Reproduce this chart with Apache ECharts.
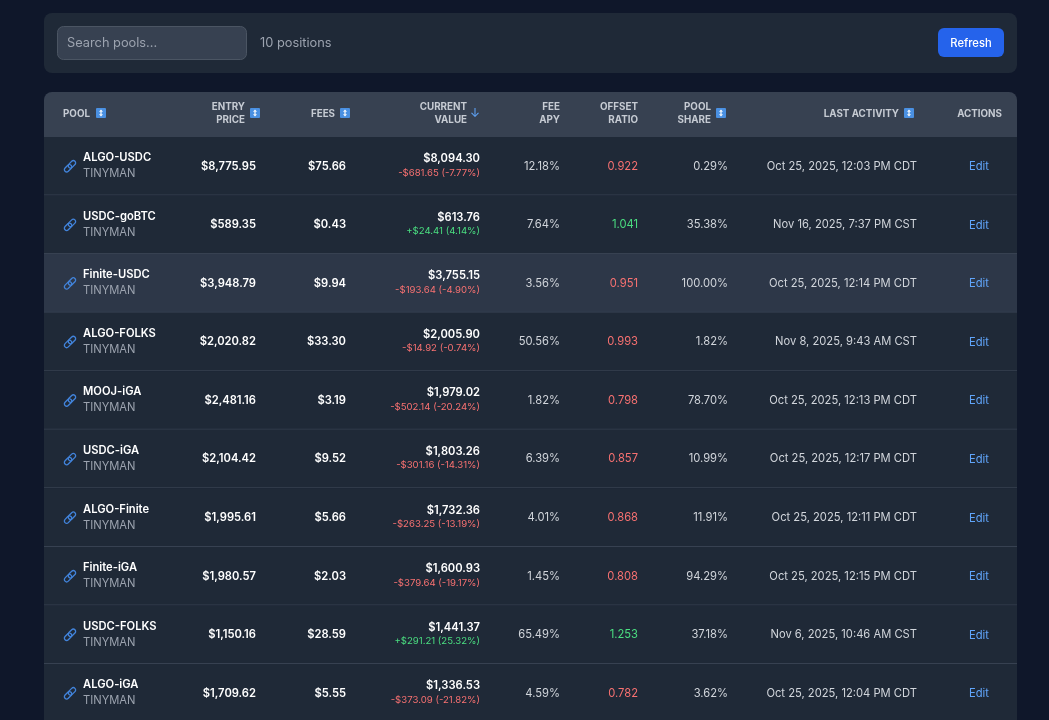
<!DOCTYPE html>
<html>
<head>
<meta charset="utf-8">
<title>Positions</title>
<script src="https://cdn.jsdelivr.net/npm/echarts@6/dist/echarts.min.js"></script>
<style>
html, body { margin: 0; padding: 0; background: #0f172a; overflow: hidden; }
#main { width: 1049px; height: 720px; }
</style>
</head>
<body>
<div id="main"></div>
<script>
var pools = ['ALGO-USDC', 'USDC-goBTC', 'Finite-USDC', 'ALGO-FOLKS', 'MOOJ-iGA', 'USDC-iGA', 'ALGO-Finite', 'Finite-iGA', 'USDC-FOLKS', 'ALGO-iGA'];
var entryPrices = [8775.95, 589.35, 3948.79, 2020.82, 2481.16, 2104.42, 1995.61, 1980.57, 1150.16, 1709.62];
var fees = [75.66, 0.43, 9.94, 33.30, 3.19, 9.52, 5.66, 2.03, 28.59, 5.55];
var currentValues = [8094.30, 613.76, 3755.15, 2005.90, 1979.02, 1803.26, 1732.36, 1600.93, 1441.37, 1336.53];
var valueChanges = [-681.65, 24.41, -193.64, -14.92, -502.14, -301.16, -263.25, -379.64, 291.21, -373.09];
var changePercents = [-7.77, 4.14, -4.90, -0.74, -20.24, -14.31, -13.19, -19.17, 25.32, -21.82];
var feeApys = [12.18, 7.64, 3.56, 50.56, 1.82, 6.39, 4.01, 1.45, 65.49, 4.59];
var offsetRatios = [0.922, 1.041, 0.951, 0.993, 0.798, 0.857, 0.868, 0.808, 1.253, 0.782];
var poolShares = [0.29, 35.38, 100.00, 1.82, 78.70, 10.99, 11.91, 94.29, 37.18, 3.62];
var lastActivity = [
    'Oct 25, 2025, 12:03 PM CDT', 'Nov 16, 2025, 7:37 PM CST', 'Oct 25, 2025, 12:14 PM CDT',
    'Nov 8, 2025, 9:43 AM CST', 'Oct 25, 2025, 12:13 PM CDT', 'Oct 25, 2025, 12:17 PM CDT',
    'Oct 25, 2025, 12:11 PM CDT', 'Oct 25, 2025, 12:15 PM CDT', 'Nov 6, 2025, 10:46 AM CST',
    'Oct 25, 2025, 12:04 PM CDT'
];
var protocol = 'TINYMAN';
var hoveredRow = 2; // the row that is lit up in the screenshot

var FONT = 'Inter, "Noto Sans", sans-serif';
var C = {
    page: '#0f172a', panel: '#1f2937', head: '#374151', line: '#374151', hover: '#2d3748',
    white: '#ffffff', text: '#d1d5db', muted: '#9ca3af', red: '#f87171', green: '#4ade80',
    link: '#60a5fa', blue: '#2563eb', emoji: '#4a90e2'
};

function money(v) {
    return '$' + v.toLocaleString('en-US', { minimumFractionDigits: 2, maximumFractionDigits: 2 });
}
function changeLabel(i) {
    var up = valueChanges[i] >= 0;
    return (up ? '+' : '-') + money(Math.abs(valueChanges[i])) + ' (' + changePercents[i].toFixed(2) + '%)';
}

function label(text, x, y, font, fill, align) {
    return {
        type: 'text',
        style: { text: text, x: x, y: y, font: font, fill: fill, align: align || 'right', verticalAlign: 'middle' }
    };
}

// chain icon in front of the pool name
function linkIcon(x, y) {
    var ring = { fill: 'transparent', stroke: '#4284dc', lineWidth: 1.3 };
    return {
        type: 'group', x: x, y: y, rotation: Math.PI / 4,
        children: [
            { type: 'rect', shape: { x: -7, y: -2.3, width: 8.5, height: 4.6, r: 2.3 }, style: ring },
            { type: 'rect', shape: { x: -1.5, y: -2.3, width: 8.5, height: 4.6, r: 2.3 }, style: ring }
        ]
    };
}

function renderRow(params, api) {
    var i = api.value(1);
    var y = api.coord([44, i])[1];
    var h = api.size([0, 1])[1];
    var top = y - h / 2;
    var bold = '600 11.2px ' + FONT, plain = '400 11.2px ' + FONT;
    var ratioColor = offsetRatios[i] >= 1 ? C.green : C.red;
    var changeColor = valueChanges[i] >= 0 ? C.green : C.red;
    return {
        type: 'group',
        children: [
            { type: 'rect', shape: { x: 44, y: top, width: 973, height: h }, style: { fill: i === hoveredRow ? C.hover : C.panel } },
            { type: 'rect', shape: { x: 44, y: top + h - 1, width: 973, height: 1 }, style: { fill: C.line } },
            linkIcon(70, y),
            label(pools[i], 83, y - 8.5, bold, C.white, 'left'),
            label(protocol, 83, y + 7.5, plain, C.muted, 'left'),
            label(money(entryPrices[i]), 256, y, bold, C.white),
            label(money(fees[i]), 346, y, bold, C.white),
            label(money(currentValues[i]), 480, y - 7.5, bold, C.white),
            label(changeLabel(i), 480, y + 6.5, '400 9.6px ' + FONT, changeColor),
            label(feeApys[i].toFixed(2) + '%', 560, y, plain, C.text),
            label(offsetRatios[i].toFixed(3), 638, y, plain, ratioColor),
            label(poolShares[i].toFixed(2) + '%', 728, y, plain, C.text),
            label(lastActivity[i], 917, y, plain, C.text),
            label('Edit', 979, y + 0.5, plain, C.link, 'center')
        ]
    };
}

// toolbar + table head are page furniture, they don't hang off the scales
function headText(text, x, y, align) {
    return {
        type: 'text', z: 20,
        style: { text: text, x: x, y: y + 1, font: '700 9.8px ' + FONT, fill: '#c6cbd3', align: align || 'right', verticalAlign: 'middle' }
    };
}
function sortIcon(x, y) {
    return [
        { type: 'rect', z: 20, shape: { x: x, y: y, width: 10, height: 10, r: 1 }, style: { fill: C.emoji } },
        { type: 'polygon', z: 21, shape: { points: [[x + 5, y + 1.5], [x + 7, y + 3.8], [x + 3, y + 3.8]] }, style: { fill: '#fff' } },
        { type: 'polygon', z: 21, shape: { points: [[x + 5, y + 8.5], [x + 7, y + 6.2], [x + 3, y + 6.2]] }, style: { fill: '#fff' } },
        { type: 'rect', z: 21, shape: { x: x + 4.4, y: y + 3.5, width: 1.2, height: 3 }, style: { fill: '#fff' } }
    ];
}

var furniture = [
    { type: 'rect', z: 10, shape: { x: 44, y: 13, width: 973, height: 60, r: 8 }, style: { fill: C.panel } },
    { type: 'rect', z: 11, shape: { x: 57.5, y: 26.5, width: 189, height: 33, r: 6 }, style: { fill: C.head, stroke: '#4b5563', lineWidth: 1 } },
    { type: 'text', z: 12, style: { text: 'Search pools...', x: 67, y: 43.5, font: '400 12.8px ' + FONT, fill: C.muted, align: 'left', verticalAlign: 'middle' } },
    { type: 'text', z: 12, style: { text: '10 positions', x: 260, y: 43.5, font: '400 12.8px ' + FONT, fill: C.muted, align: 'left', verticalAlign: 'middle' } },
    { type: 'rect', z: 11, shape: { x: 938, y: 28, width: 66, height: 29, r: 6 }, style: { fill: C.blue } },
    { type: 'text', z: 12, style: { text: 'Refresh', x: 971, y: 44, font: '500 11.2px ' + FONT, fill: '#fff', align: 'center', verticalAlign: 'middle' } },
    { type: 'rect', z: 10, shape: { x: 44, y: 92, width: 973, height: 45, r: [8, 8, 0, 0] }, style: { fill: C.head } },
    headText('POOL', 63, 113.5, 'left'),
    headText('ENTRY', 245, 106.5), headText('PRICE', 245, 119.5),
    headText('FEES', 335, 113.5),
    headText('CURRENT', 467, 106.5), headText('VALUE', 467, 119.5),
    { type: 'text', z: 20, style: { text: '↓', x: 475, y: 113, font: '400 12px ' + FONT, fill: '#60a5fa', align: 'center', verticalAlign: 'middle' } },
    headText('FEE', 560, 106.5), headText('APY', 560, 119.5),
    headText('OFFSET', 638, 106.5), headText('RATIO', 638, 119.5),
    headText('POOL', 711, 106.5), headText('SHARE', 711, 119.5),
    headText('LAST ACTIVITY', 899, 113.5),
    headText('ACTIONS', 1002, 113.5)
].concat(sortIcon(96, 108), sortIcon(250, 108), sortIcon(340, 108), sortIcon(716, 108), sortIcon(904, 108));

var myChart = echarts.init(document.getElementById('main'), null, { renderer: 'canvas' });
var option = {
    animation: false,
    backgroundColor: C.page,
    grid: { left: 44, top: 137, width: 973, height: 585.6, outerBoundsMode: 'none' },
    xAxis: { type: 'value', min: 44, max: 1017, show: false },
    yAxis: { type: 'category', inverse: true, show: false, data: pools.map(function (p, i) { return i; }) },
    graphic: furniture,
    series: [{
        type: 'custom',
        clip: false,
        renderItem: renderRow,
        data: pools.map(function (p, i) { return [44, i]; })
    }]
};
myChart.setOption(option);
</script>
</body>
</html>
